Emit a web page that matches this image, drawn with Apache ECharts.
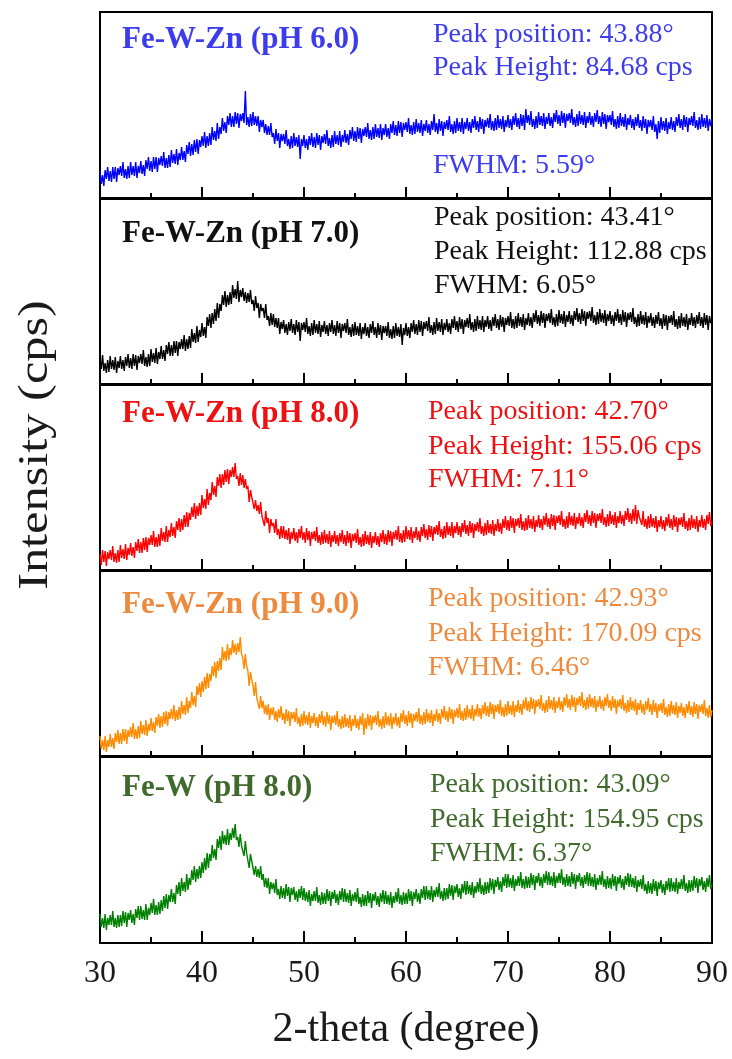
<!DOCTYPE html>
<html>
<head>
<meta charset="utf-8">
<script src="https://cdn.jsdelivr.net/npm/echarts@6/dist/echarts.min.js"></script>
<style>
  html, body { margin: 0; padding: 0; background: #fff; }
  #chart { width: 732px; height: 1059px; }
</style>
</head>
<body>
<div id="chart"></div>
<script>
// scan grid: 2-theta from 30 to 90 deg, one reading every 0.125 deg
const angleStart = 30
const angleStep = 0.125

// intensities (arbitrary offset, one row of 8 = one degree)
const countsPH6 = [
  28,15,24,13,29,20,32,18, 28,17,32,20,32,17,31,24, 33,23,37,21,30,20,33,21,
  37,24,33,23,37,21,33,26, 38,25,34,23,39,30,42,28, 38,27,42,30,42,27,41,34,
  43,33,47,31,41,31,44,32, 49,36,45,35,50,34,46,39, 52,39,48,37,54,45,57,43,
  55,44,59,47,60,45,59,52, 63,53,67,51,63,53,66,54, 72,59,68,58,76,60,72,65,
  81,68,77,66,83,74,86,72, 83,72,87,75,86,71,85,78, 86,76,108,74,82,72,85,73,
  87,74,83,73,83,67,79,72, 79,66,75,64,73,64,76,62, 66,55,70,58,66,51,65,58,
  65,55,69,53,60,50,63,51, 66,53,62,52,64,40,60,53, 64,51,60,49,63,54,66,52,
  62,51,66,54,64,49,63,56, 65,55,69,53,61,51,64,52, 68,55,64,54,68,52,64,57,
  69,56,65,54,69,60,72,58, 68,57,72,60,71,56,70,63, 72,62,76,60,69,59,72,60,
  75,62,71,61,75,59,71,64, 75,62,71,60,75,66,78,64, 74,63,78,66,77,62,76,69,
  77,67,81,65,74,64,77,65, 80,67,76,66,79,63,75,68, 79,66,75,64,78,69,85,67,
  76,65,80,68,78,63,77,70, 79,69,83,67,75,65,78,66, 81,68,77,67,81,65,77,70,
  81,68,77,66,80,71,83,69, 78,67,82,70,80,65,79,72, 81,71,85,69,78,68,81,69,
  84,71,80,70,83,67,79,72, 84,71,80,69,83,74,86,72, 81,70,85,73,84,69,90,76,
  84,74,88,72,80,70,83,71, 87,74,83,73,86,70,82,75, 86,73,82,71,86,77,89,75,
  84,73,88,76,86,71,85,78, 86,76,90,74,82,72,85,73, 88,75,84,74,87,71,83,76,
  87,74,83,72,86,77,89,75, 83,72,87,75,85,70,84,77, 84,74,88,72,80,70,83,71,
  86,73,82,72,85,69,81,74, 84,71,80,69,82,73,85,71, 79,68,83,71,80,65,79,72,
  79,69,83,67,75,60,78,66, 82,69,78,68,81,65,77,70, 82,69,78,67,82,73,85,71,
  80,69,84,72,82,67,81,74, 83,73,87,71,79,69,82,70, 85,72,81,71,84,68,80,73,
  80
]
const countsPH7 = [
  26,16,30,14,22,12,25,13, 29,16,25,15,28,12,24,17, 29,16,25,14,28,19,31,17,
  27,16,31,19,30,15,29,22, 31,21,35,19,28,18,31,19, 36,23,32,22,37,21,33,26,
  39,26,35,24,40,31,43,29, 40,29,44,32,44,29,43,36, 46,36,50,34,46,36,49,37,
  56,43,52,42,59,43,55,48, 62,49,58,47,68,59,71,57, 72,61,76,64,82,67,81,74,
  90,80,94,78,90,80,93,81, 100,87,96,86,104,83,95,88, 97,84,93,82,92,83,95,81,
  85,74,89,77,82,67,81,74, 77,67,81,65,69,59,72,60, 71,58,67,57,67,51,63,56,
  65,52,61,50,63,54,66,52, 61,50,65,53,63,44,62,55, 63,53,67,51,59,49,62,50,
  65,52,61,51,64,48,60,53, 64,51,60,49,62,53,65,51, 60,49,64,52,62,47,61,54,
  62,52,66,50,58,48,61,49, 63,50,59,49,62,46,58,51, 62,49,58,47,61,52,64,50,
  58,47,62,50,60,45,59,52, 59,49,63,47,56,46,59,47, 62,49,58,48,61,40,57,50,
  62,49,58,47,62,53,65,51, 61,50,65,53,64,49,63,56, 64,54,68,52,60,50,63,51,
  67,54,63,53,66,50,62,55, 66,53,62,51,66,57,69,55, 64,53,68,56,66,51,65,58,
  67,57,71,55,63,53,66,54, 69,56,65,55,69,53,65,58, 69,56,65,54,68,59,71,57,
  66,55,70,58,68,53,67,60, 69,59,73,57,66,56,69,57, 72,59,68,58,71,55,67,60,
  72,59,68,57,72,63,75,61, 70,59,74,62,72,57,71,64, 72,62,76,60,68,58,71,59,
  75,62,71,61,74,58,70,63, 74,61,70,59,74,65,77,63, 72,61,76,64,74,59,73,66,
  74,64,78,62,70,60,73,61, 76,63,72,62,75,59,71,64, 74,61,70,59,73,64,76,62,
  71,60,75,63,73,58,72,65, 73,63,77,61,68,58,71,59, 74,61,70,60,73,57,69,62,
  72,59,68,57,70,61,73,59, 67,56,71,59,70,55,69,62, 70,60,74,58,66,56,69,57,
  72,59,68,58,71,55,67,60, 72,59,68,57,70,61,73,59, 68,57,72,60,70,55,69,62,
  66
]
const countsPH8 = [
  17,6,21,9,20,5,19,12, 21,11,25,9,18,8,21,9, 26,13,22,12,27,11,23,16,
  28,15,24,13,29,20,32,18, 29,18,33,21,34,19,33,26, 36,26,40,24,34,24,37,25,
  43,30,39,29,45,29,41,34, 48,35,44,33,50,41,53,39, 52,41,56,44,59,44,58,51,
  64,54,68,52,65,55,68,56, 76,63,72,62,82,66,78,71, 89,76,85,74,94,85,97,83,
  97,86,101,89,102,87,101,94, 104,94,108,92,95,85,98,86, 96,83,92,82,85,69,81,74,
  75,62,71,60,66,57,69,55, 56,45,60,48,53,38,52,45, 48,38,52,36,42,32,45,33,
  45,32,41,31,43,27,39,32, 43,30,39,28,42,33,45,31, 39,28,43,31,40,25,39,32,
  40,30,44,28,36,26,39,27, 41,28,37,27,40,24,36,29, 40,27,36,25,38,29,41,27,
  36,25,40,28,38,23,37,30, 38,28,42,26,34,24,37,25, 40,27,36,26,39,23,35,28,
  39,26,35,24,38,29,41,27, 37,26,41,29,40,25,39,32, 41,31,45,29,38,28,41,29,
  45,32,41,31,44,28,40,33, 44,31,40,29,44,35,47,33, 42,31,46,34,45,30,44,37,
  46,36,50,34,42,32,45,33, 49,36,45,35,49,33,45,38, 49,36,45,34,48,39,51,37,
  46,35,50,38,48,33,47,40, 49,39,53,37,45,35,48,36, 51,38,47,37,51,35,47,40,
  52,39,48,37,52,43,55,41, 51,40,55,43,53,38,52,45, 53,43,57,41,50,40,53,41,
  56,43,52,42,55,39,51,44, 56,43,52,41,55,46,58,44, 53,42,57,45,56,41,55,48,
  56,46,60,44,52,42,55,43, 59,46,55,45,58,42,54,47, 58,45,54,43,58,49,61,47,
  56,45,60,48,58,43,57,50, 58,48,62,46,54,44,57,45, 60,47,56,46,59,43,55,48,
  60,47,56,45,60,51,63,49, 58,47,62,50,66,47,61,54, 56,46,60,44,52,42,55,43,
  57,44,53,43,55,39,51,44, 55,42,51,40,54,45,57,43, 52,41,56,44,54,39,53,46,
  54,44,58,42,50,40,53,41, 56,43,52,42,55,39,51,44, 56,43,52,41,56,47,59,45,
  50
]
const countsPH9 = [
  21,8,17,7,21,5,17,10, 23,10,19,8,24,15,27,13, 24,13,28,16,28,13,27,20,
  30,20,34,18,28,18,31,19, 36,23,32,22,37,21,33,26, 39,26,35,24,40,31,43,29,
  41,30,45,33,46,31,45,38, 48,38,52,36,47,37,50,38, 56,43,52,42,60,44,56,49,
  65,52,61,50,71,62,74,60, 76,65,80,68,84,69,83,76, 91,81,95,79,96,86,99,87,
  110,97,106,96,113,97,109,102, 117,104,113,102,114,105,120,103, 99,88,103,91,86,71,85,78,
  71,61,75,59,58,48,61,49, 56,43,52,42,53,37,49,42, 50,37,46,35,48,39,51,37,
  44,33,48,36,46,31,45,38, 45,35,49,33,40,30,43,31, 46,33,42,32,45,29,41,34,
  44,31,40,29,43,34,46,32, 41,30,45,33,42,27,41,34, 42,32,46,30,38,28,41,29,
  43,30,39,29,42,26,38,31, 42,29,38,27,41,32,44,22, 39,28,43,31,42,27,41,34,
  42,32,46,30,38,28,41,29, 45,32,41,31,44,28,40,33, 44,31,40,29,44,35,47,33,
  42,31,46,34,44,29,43,36, 45,35,49,33,42,32,45,33, 48,35,44,34,47,31,43,36,
  48,35,44,33,48,39,51,37, 46,35,50,38,48,33,47,40, 49,39,53,37,46,36,49,37,
  52,39,48,38,52,36,48,41, 53,40,49,38,52,43,55,41, 51,40,55,43,53,38,52,45,
  53,43,57,41,50,40,53,41, 56,43,52,42,56,40,52,45, 57,44,53,42,57,48,60,46,
  56,45,60,48,58,43,57,50, 58,48,62,46,54,44,57,45, 61,48,57,47,60,44,56,49,
  60,47,56,45,60,51,63,49, 58,47,62,50,60,45,59,52, 61,51,65,49,57,47,60,48,
  63,50,59,49,61,45,57,50, 61,48,57,46,60,51,63,49, 57,46,61,49,58,43,57,50,
  58,48,62,46,54,44,57,45, 60,47,56,46,58,42,54,47, 57,44,53,42,56,47,59,45,
  53,42,57,45,54,39,53,46, 54,44,58,42,50,40,53,41, 56,43,52,42,55,39,51,44,
  54,41,50,39,53,44,56,42, 51,40,55,43,53,38,52,45, 53,43,57,41,49,39,52,40,
  47
]
const countsFeW = [
  29,16,25,15,29,13,25,18, 28,18,32,16,25,15,28,16, 28,17,32,20,31,16,30,23,
  33,20,29,18,34,25,37,23, 37,24,33,23,39,23,35,28, 40,30,44,28,38,28,41,29,
  43,32,47,35,49,34,48,41, 54,41,50,39,58,49,61,47, 65,52,61,51,69,53,65,58,
  73,63,77,61,74,64,77,65, 81,70,85,73,90,75,89,82, 98,85,94,83,104,95,107,93,
  112,99,108,98,114,98,110,103, 115,105,119,103,106,96,109,97, 98,87,102,90,90,75,89,82,
  81,68,77,66,74,65,77,63, 69,56,65,55,65,49,61,54, 60,50,64,48,54,44,57,45,
  55,44,59,47,56,41,55,48, 56,43,52,41,54,45,57,43, 55,42,51,41,53,37,49,42,
  52,42,56,40,48,38,51,39, 50,39,54,42,52,37,51,44, 53,40,49,38,52,43,55,41,
  54,41,50,40,53,37,49,42, 51,41,55,39,46,36,49,37, 48,37,52,40,50,35,49,42,
  51,38,47,36,50,41,53,39, 52,39,48,38,51,35,47,40, 51,41,55,39,48,38,51,39,
  50,39,54,42,52,37,51,44, 54,41,50,39,54,45,57,43, 57,44,53,43,57,41,53,46,
  56,46,60,44,52,42,55,43, 55,44,59,47,58,43,57,50, 59,46,55,44,59,50,62,48,
  62,49,58,48,61,45,57,50, 61,51,65,49,58,48,61,49, 61,50,65,53,64,49,63,56,
  66,53,62,51,66,57,69,55, 69,56,65,55,68,52,64,57, 67,57,71,55,64,54,67,55,
  66,55,70,58,68,53,67,60, 70,57,66,55,69,60,72,58, 71,58,67,57,71,55,67,60,
  70,60,74,58,66,56,69,57, 67,56,71,59,69,54,68,61, 70,57,66,55,68,59,71,57,
  70,57,66,56,69,53,65,58, 68,58,72,56,64,54,67,55, 65,54,69,57,67,52,66,59,
  68,55,64,53,67,58,70,56, 69,56,65,55,67,51,63,56, 64,54,68,52,59,49,62,50,
  60,49,64,52,62,47,61,54, 63,50,59,48,62,53,65,51, 65,52,61,51,65,49,61,54,
  64,54,68,52,60,50,63,51, 63,52,67,55,65,50,64,57, 66,53,62,51,65,56,68,54,
  59
]

const sampleNames = ['Fe-W-Zn (pH 6.0)', 'Fe-W-Zn (pH 7.0)', 'Fe-W-Zn (pH 8.0)', 'Fe-W-Zn (pH 9.0)', 'Fe-W (pH 8.0)']
const peakPositions = ['43.88', '43.41', '42.70', '42.93', '43.09']
const peakHeights = ['84.68', '112.88', '155.06', '170.09', '154.95']
const fwhms = ['5.59', '6.05', '7.11', '6.46', '6.37']
const allCounts = [countsPH6, countsPH7, countsPH8, countsPH9, countsFeW]

const lineColors = ['#0000ff', '#000000', '#ff0000', '#ff8a00', '#008000']
const textColors = ['#3c3cee', '#111111', '#ee1111', '#ee8a3e', '#3f6a2c']

const serif = '"Liberation Serif", "Times New Roman", serif'
const panelTop = [12, 198, 384, 570, 756]
const panelH = 187
const plotLeft = 100
const plotW = 612
// label offsets inside each panel: title, peak position, peak height, fwhm
const titleY = [28, 36, 30, 35, 32]
const lineY = [[24, 57, 155], [21, 55, 89], [29, 64, 97], [30, 65, 99], [30, 65, 99]]
const annX = [433, 434, 428, 428, 430]

const chart = echarts.init(document.getElementById('chart'))

const grids = [], xAxes = [], yAxes = [], series = [], texts = []
allCounts.forEach((counts, i) => {
  const last = i === allCounts.length - 1
  grids.push({
    left: plotLeft, width: plotW, top: panelTop[i], height: panelH,
    show: true, borderColor: '#000', borderWidth: 2, backgroundColor: 'transparent'
  })
  xAxes.push({
    type: 'value', gridIndex: i, min: 30, max: 90, interval: 10,
    axisLine: { show: true, lineStyle: { color: '#000', width: 2 } },
    axisTick: { show: true, inside: true, length: 12, lineStyle: { color: '#000', width: 2 } },
    minorTick: { show: true, splitNumber: 2, length: 6, lineStyle: { color: '#000', width: 2 } },
    splitLine: { show: false },
    axisLabel: { show: last, color: '#1a1a1a', fontSize: 32, fontFamily: serif, margin: 15 },
    name: last ? '2-theta (degree)' : '',
    nameLocation: 'middle', nameGap: 66,
    nameTextStyle: { color: '#1a1a1a', fontSize: 42, fontFamily: serif }
  })
  yAxes.push({
    type: 'value', gridIndex: i, min: 0, max: panelH,
    axisLine: { show: false }, axisTick: { show: false },
    axisLabel: { show: false }, splitLine: { show: false }
  })
  series.push({
    type: 'line', xAxisIndex: i, yAxisIndex: i,
    data: counts.map((c, k) => [angleStart + k * angleStep, c]),
    showSymbol: false, sampling: false, clip: true,
    lineStyle: { color: lineColors[i], width: 1.4 },
    animation: false
  })
  const top = panelTop[i]
  texts.push({
    type: 'text', left: 122, top: top + titleY[i] - 16,
    style: { text: sampleNames[i], fill: textColors[i], font: 'bold 31px ' + serif }
  })
  const lines = ['Peak position: ' + peakPositions[i] + '°', 'Peak Height: ' + peakHeights[i] + ' cps', 'FWHM: ' + fwhms[i] + '°']
  lines.forEach((t, j) => {
    texts.push({
      type: 'text', left: annX[i], top: top + lineY[i][j] - 15,
      style: { text: t, fill: textColors[i], font: '28px ' + serif }
    })
  })
})

texts.push({
  type: 'text', x: 36, y: 445, rotation: Math.PI / 2, scaleX: 1.2,
  style: { text: 'Intensity (cps)', fill: '#1a1a1a', font: '42px ' + serif, align: 'center', verticalAlign: 'middle' }
})

chart.setOption({
  animation: false,
  backgroundColor: '#fff',
  grid: grids,
  xAxis: xAxes,
  yAxis: yAxes,
  series: series,
  graphic: texts
})
</script>
</body>
</html>
